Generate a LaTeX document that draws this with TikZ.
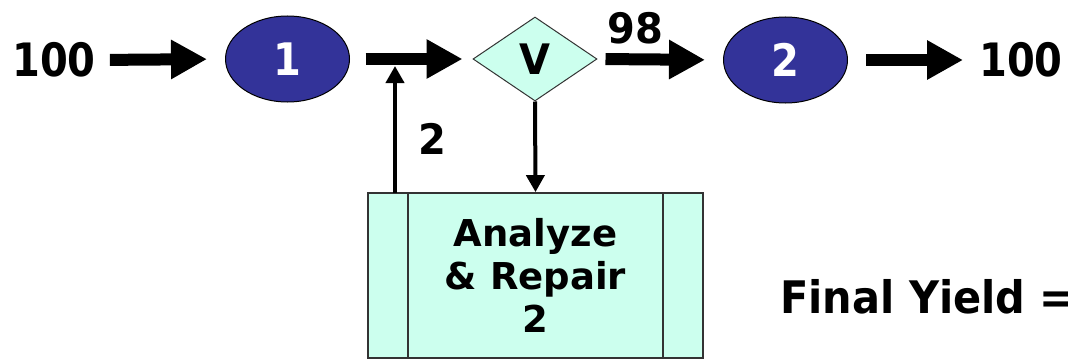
\documentclass[tikz,border=0pt]{standalone}
\usepackage{fontspec}
\usepackage{graphicx}
\setmainfont{DejaVu Sans}
\usetikzlibrary{arrows.meta,shapes.geometric,calc}
\definecolor{navy}{HTML}{333399}
\definecolor{aqua}{HTML}{CCFFEE}
\definecolor{edge}{HTML}{333333}
\newcommand{\tall}[2]{\scalebox{1}[#1]{#2}}
\begin{document}
\begin{tikzpicture}[x=1pt,y=-1pt,
  lbl/.style={font=\fontsize{40}{44}\selectfont\bfseries, inner sep=0pt},
  oval/.style={ellipse, draw=black, line width=1pt, fill=navy, minimum width=124pt, minimum height=86pt, inner sep=0pt, text=white, font=\fontsize{40}{44}\selectfont\bfseries},
  decide/.style={diamond, draw=edge, line width=1pt, fill=aqua, minimum width=124pt, minimum height=84pt, inner sep=0pt, font=\fontsize{40}{44}\selectfont\bfseries},
  repair/.style={rectangle, draw=edge, line width=1.8pt, fill=aqua, minimum width=335pt, minimum height=165pt, inner sep=0pt, align=center, font=\fontsize{37}{43}\selectfont\bfseries},
  bigarrow/.style={line width=12pt, -{Triangle[length=36pt 0 0, width=37pt 0 0]}},
  thinarrow/.style={line width=4pt, -{Triangle[length=17pt 0 0, width=18pt 0 0]}}]
\useasboundingbox[fill=white] (0,0) rectangle (1068,361);
\clip (0,0) rectangle (1068,361);
\node[lbl] (in) at (54,60) {\tall{1.15}{100}};
\node[oval] (e1) at (287.5,59) {\tall{1.12}{1}};
\node[decide] (dv) at (535,59) {\tall{1.05}{V}};
\node[oval] (e2) at (785.5,60) {\tall{1.12}{2}};
\node[lbl] (out) at (1021,60) {\tall{1.15}{100}};
\node[repair] (box) at (535.5,275.5) {Analyze\\\& Repair\\2};
\draw[edge, line width=1.8pt] ($(box.north west)+(41,0)$) -- ($(box.south west)+(41,0)$);
\draw[edge, line width=1.8pt] ($(box.north east)+(-41,0)$) -- ($(box.south east)+(-41,0)$);
\node[lbl] (l98) at (635,28.5) {\tall{1.05}{98}};
\node[lbl] (l2) at (432,139) {\tall{1.05}{2}};
\node[lbl, anchor=base west, font=\fontsize{41.5}{44}\selectfont\bfseries] (fy) at (780,313) {\tall{1.08}{Final Yield =}};
\coordinate (j) at (395,60);
\coordinate (b1) at (395,193);
\draw[bigarrow, shorten <=14pt, shorten >=18pt] (in.east) -- (e1.west);
\draw[bigarrow, shorten <=15.5pt, shorten >=10pt] (e1.east) -- (dv.west);
\draw[bigarrow, shorten <=8pt, shorten >=18pt] (dv.east) -- (e2.west);
\draw[bigarrow, shorten <=18pt, shorten >=16pt] (e2.east) -- (out.west);
\draw[thinarrow, shorten >=6pt] (b1) -- (j);
\draw[thinarrow] (dv.south) -- (box.north);
\end{tikzpicture}
\end{document}
